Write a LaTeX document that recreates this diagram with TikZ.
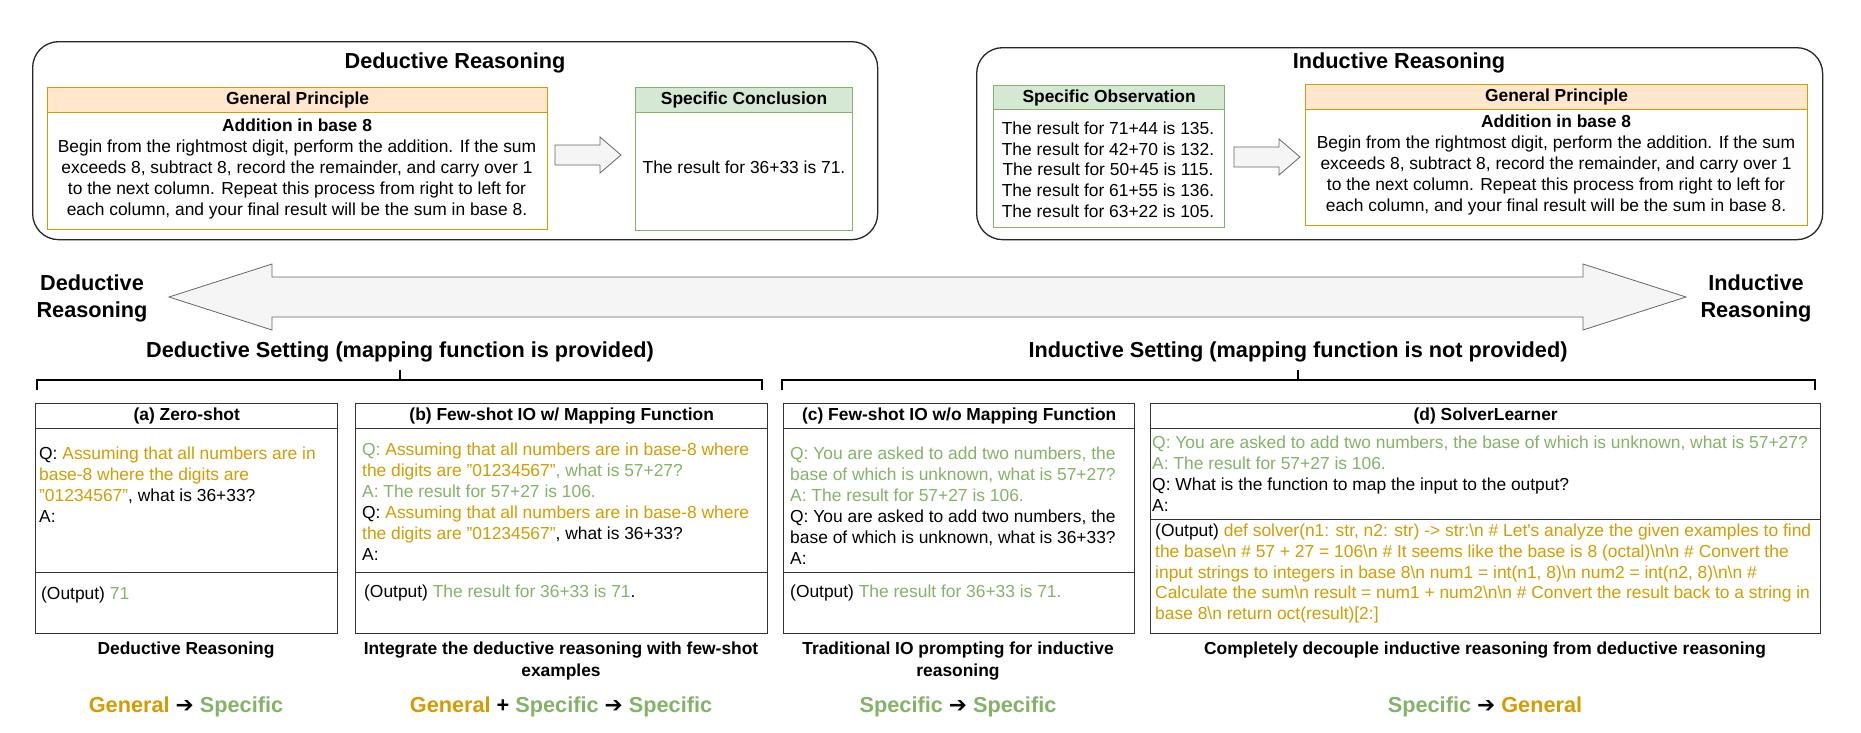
\documentclass[tikz,border=0pt]{standalone}
\usepackage{fontspec}
\setmainfont{Liberation Sans}
\newfontfamily\arrowfont{DejaVu Sans}
\definecolor{org}{HTML}{D79B00}
\definecolor{grn}{HTML}{82B366}
\definecolor{orgfill}{HTML}{FFE6CC}
\definecolor{grnfill}{HTML}{D5E8D4}
\definecolor{arrfill}{HTML}{F5F5F5}
\definecolor{arrline}{HTML}{666666}
\newcommand{\myBS}{\textbackslash{}}
\newcommand{\myarr}{{\arrowfont\bfseries ➔}}
\tikzset{
  outerbox/.style={draw=black!85, line width=1.3pt, rounded corners=26pt, inner sep=0pt, anchor=north west},
  ttl/.style={font=\fontsize{21.7}{27}\selectfont\bfseries, align=center, inner sep=0pt},
  btxt/.style={font=\fontsize{17.4}{21}\selectfont, inner sep=0pt},
  bbold/.style={font=\fontsize{17.4}{22}\selectfont\bfseries, inner sep=0pt, align=center},
  ohead/.style={draw=org, fill=orgfill, line width=1.2pt, inner sep=0pt, anchor=north west, font=\fontsize{17.4}{21}\selectfont\bfseries},
  obody/.style={draw=org, fill=white, line width=1.2pt, inner sep=0pt, anchor=north west},
  ghead/.style={draw=grn, fill=grnfill, line width=1.2pt, inner sep=0pt, anchor=north west, font=\fontsize{17.4}{21}\selectfont\bfseries},
  gbody/.style={draw=grn, fill=white, line width=1.2pt, inner sep=0pt, anchor=north west},
  blockarrow/.style={draw=arrline, fill=arrfill, line width=0.8pt, line join=miter},
  brk/.style={draw=black, line width=2.6pt},
  tickline/.style={draw=black, line width=1.5pt},
  phead/.style={draw=black!80, line width=1.4pt, inner sep=0pt, anchor=north west, font=\fontsize{17.4}{21}\selectfont\bfseries},
  pbox/.style={draw=black!80, line width=1.4pt, inner sep=0pt, anchor=north west},
  ptxt/.style={font=\fontsize{17.4}{21}\selectfont, inner sep=0pt, anchor=west, align=left},
  biglbl/.style={font=\fontsize{21.7}{26}\selectfont\bfseries, inner sep=0pt}
}
\begin{document}
\begin{tikzpicture}[x=1pt,y=-1pt]
\useasboundingbox (0,0) rectangle (1861,732);

% ---------- Deductive reasoning box ----------
\node[outerbox, minimum width=845pt, minimum height=198pt] (dedouter) at (32,41) {};
\node[ttl] (dedtitle) at (455,63) {Deductive Reasoning};
\node[ohead, minimum width=500pt, minimum height=25pt] (gpAh) at (47,87) {General Principle};
\node[obody, minimum width=500pt, minimum height=117pt] (gpAb) at (47,112) {};
\node[btxt, align=center] (gpAt) at (297,169) {\textbf{Addition in base 8}\\Begin from the rightmost digit, perform the addition. If the sum\\exceeds 8, subtract 8, record the remainder, and carry over 1\\to the next column. Repeat this process from right to left for\\each column, and your final result will be the sum in base 8.};
\draw[blockarrow] (555,145) -- (600,145) -- (600,137) -- (621,155) -- (600,173) -- (600,165) -- (555,165) -- cycle;
\node[ghead, minimum width=217pt, minimum height=25pt] (scAh) at (635,87) {Specific Conclusion};
\node[gbody, minimum width=217pt, minimum height=118pt] (scAb) at (635,112) {};
\node[btxt] (scAt) at (744,167) {The result for 36+33 is 71.};

% ---------- Inductive reasoning box ----------
\node[outerbox, minimum width=846pt, minimum height=192pt] (indouter) at (976,47) {};
\node[ttl] (indtitle) at (1399,63) {Inductive Reasoning};
\node[ghead, minimum width=231pt, minimum height=24pt] (soh) at (993,85) {Specific Observation};
\node[gbody, minimum width=231pt, minimum height=118pt] (sob) at (993,109) {};
\node[font=\fontsize{17.4}{20.7}\selectfont, inner sep=0pt, align=center] (sot) at (1108,169.5) {The result for 71+44 is 135.\\The result for 42+70 is 132.\\The result for 50+45 is 115.\\The result for 61+55 is 136.\\The result for 63+22 is 105.};
\draw[blockarrow] (1234,147) -- (1279,147) -- (1279,139) -- (1300,157) -- (1279,175) -- (1279,167) -- (1234,167) -- cycle;
\node[ohead, minimum width=502pt, minimum height=25pt] (gpBh) at (1305,84) {General Principle};
\node[obody, minimum width=502pt, minimum height=116pt] (gpBb) at (1305,109) {};
\node[btxt, align=center] (gpBt) at (1556,165) {\textbf{Addition in base 8}\\Begin from the rightmost digit, perform the addition. If the sum\\exceeds 8, subtract 8, record the remainder, and carry over 1\\to the next column. Repeat this process from right to left for\\each column, and your final result will be the sum in base 8.};

% ---------- Spectrum arrow ----------
\draw[blockarrow] (169,297) -- (272,264) -- (272,277) -- (1583,277) -- (1583,264) -- (1686,297) -- (1583,330) -- (1583,317) -- (272,317) -- (272,330) -- cycle;
\node[ttl] (dedlbl) at (92,298.5) {Deductive\\Reasoning};
\node[ttl] (indlbl) at (1756,298.5) {Inductive\\Reasoning};

% ---------- Settings and brackets ----------
\node[ttl] (dedset) at (400,352) {Deductive Setting (mapping function is provided)};
\node[ttl] (indset) at (1298,352) {Inductive Setting (mapping function is not provided)};
\coordinate (bA1) at (37,390); \coordinate (bA2) at (762,390);
\coordinate (bB1) at (782,390); \coordinate (bB2) at (1815,390);
\draw[brk] (bA1) -- (37,380) -- (762,380) -- (bA2);
\draw[tickline] (400,380) -- (400,370);
\draw[brk] (bB1) -- (782,380) -- (1815,380) -- (bB2);
\draw[tickline] (1298,380) -- (1298,370);

% ---------- Panel (a) ----------
\node[phead, minimum width=302pt, minimum height=25pt] (pah) at (35,403) {(a) Zero-shot};
\node[pbox, minimum width=302pt, minimum height=144pt] (paq) at (35,428) {};
\node[pbox, minimum width=302pt, minimum height=61pt] (pao) at (35,572) {};
\node[ptxt] (paqt) at (39,485) {Q: \textcolor{org}{Assuming that all numbers are in}\\\textcolor{org}{base-8 where the digits are}\\\textcolor{org}{"01234567"}, what is 36+33?\\A:};
\node[ptxt] (paot) at (41,595) {(Output) \textcolor{grn}{71}};

% ---------- Panel (b) ----------
\node[phead, minimum width=412pt, minimum height=25pt] (pbh) at (355,403) {(b) Few-shot IO w/ Mapping Function};
\node[pbox, minimum width=412pt, minimum height=144pt] (pbq) at (355,428) {};
\node[pbox, minimum width=412pt, minimum height=61pt] (pbo) at (355,572) {};
\node[ptxt] (pbqt) at (362,501.5) {\textcolor{grn}{Q:} \textcolor{org}{Assuming that all numbers are in base-8 where}\\\textcolor{org}{the digits are "01234567"}\textcolor{grn}{, what is 57+27?}\\\textcolor{grn}{A: The result for 57+27 is 106.}\\Q: \textcolor{org}{Assuming that all numbers are in base-8 where}\\\textcolor{org}{the digits are "01234567"}, what is 36+33?\\A:};
\node[ptxt] (pbot) at (364,593) {(Output) \textcolor{grn}{The result for 36+33 is 71}.};

% ---------- Panel (c) ----------
\node[phead, minimum width=351pt, minimum height=25pt] (pch) at (783,403) {(c) Few-shot IO w/o Mapping Function};
\node[pbox, minimum width=351pt, minimum height=144pt] (pcq) at (783,428) {};
\node[pbox, minimum width=351pt, minimum height=61pt] (pco) at (783,572) {};
\node[ptxt] (pcqt) at (790,506) {\textcolor{grn}{Q: You are asked to add two numbers, the}\\\textcolor{grn}{base of which is unknown, what is 57+27?}\\\textcolor{grn}{A: The result for 57+27 is 106.}\\Q: You are asked to add two numbers, the\\base of which is unknown, what is 36+33?\\A:};
\node[ptxt] (pcot) at (790,593) {(Output) \textcolor{grn}{The result for 36+33 is 71.}};

% ---------- Panel (d) ----------
\node[phead, minimum width=670pt, minimum height=25pt] (pdh) at (1150,403) {(d) SolverLearner};
\node[pbox, minimum width=670pt, minimum height=91pt] (pdq) at (1150,428) {};
\node[pbox, minimum width=670pt, minimum height=114pt] (pdo) at (1150,519) {};
\node[ptxt] (pdqt) at (1152,474) {\textcolor{grn}{Q: You are asked to add two numbers, the base of which is unknown, what is 57+27?}\\\textcolor{grn}{A: The result for 57+27 is 106.}\\Q: What is the function to map the input to the output?\\A:};
\node[ptxt, font=\fontsize{17.4}{20.75}\selectfont] (pdot) at (1155,573.5) {(Output) \textcolor{org}{def solver(n1: str, n2: str) -> str:\myBS n \# Let\textquotesingle s analyze the given examples to find}\\\textcolor{org}{the base\myBS n \# 57 + 27 = 106\myBS n \# It seems like the base is 8 (octal)\myBS n\myBS n \# Convert the}\\\textcolor{org}{input strings to integers in base 8\myBS n num1 = int(n1, 8)\myBS n num2 = int(n2, 8)\myBS n\myBS n \#}\\\textcolor{org}{Calculate the sum\myBS n result = num1 + num2\myBS n\myBS n \# Convert the result back to a string in}\\\textcolor{org}{base 8\myBS n return oct(result)[2:]}};

% ---------- Captions ----------
\node[bbold] (capa) at (186,650) {Deductive Reasoning};
\node[bbold] (capb) at (561,661) {Integrate the deductive reasoning with few-shot\\examples};
\node[bbold] (capc) at (958,661) {Traditional IO prompting for inductive\\reasoning};
\node[bbold] (capd) at (1485,650) {Completely decouple inductive reasoning from deductive reasoning};

% ---------- Bottom labels ----------
\node[biglbl] (lbla) at (186,707) {\textcolor{org}{General} \myarr{} \textcolor{grn}{Specific}};
\node[biglbl] (lblb) at (561,707) {\textcolor{org}{General} + \textcolor{grn}{Specific} \myarr{} \textcolor{grn}{Specific}};
\node[biglbl] (lblc) at (958,707) {\textcolor{grn}{Specific} \myarr{} \textcolor{grn}{Specific}};
\node[biglbl] (lbld) at (1485,707) {\textcolor{grn}{Specific} \myarr{} \textcolor{org}{General}};
\end{tikzpicture}
\end{document}
